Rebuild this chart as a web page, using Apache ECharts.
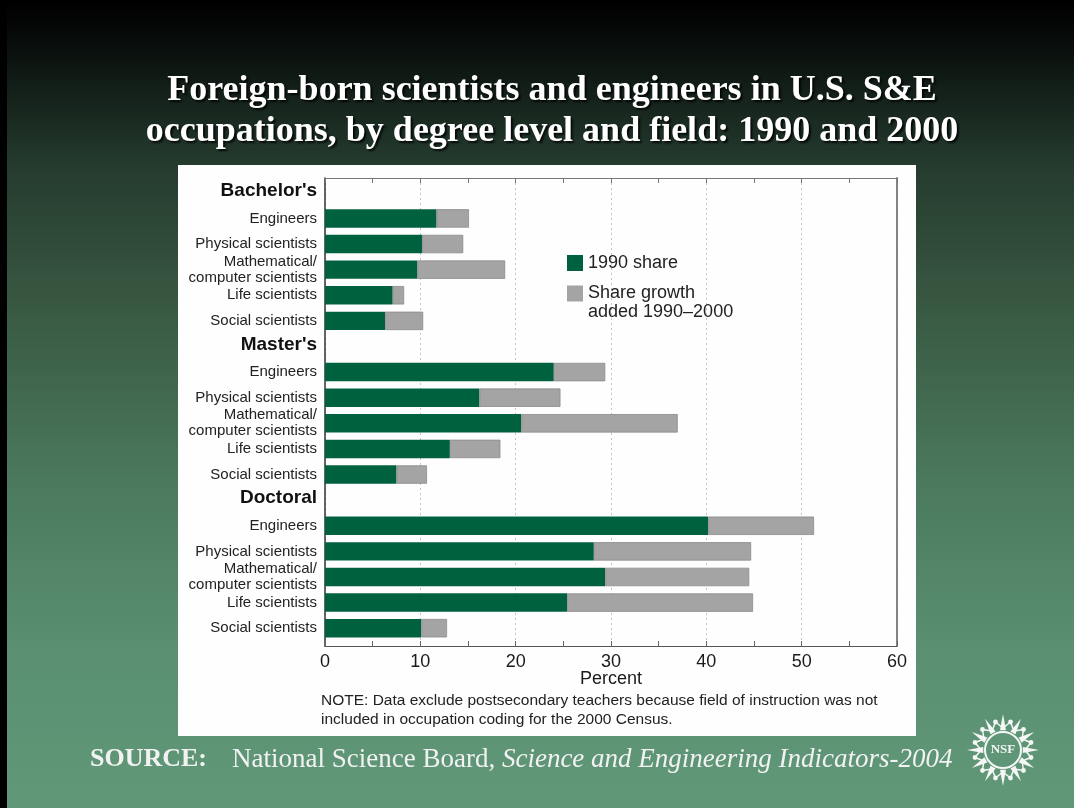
<!DOCTYPE html>
<html><head><meta charset="utf-8">
<script src="https://cdn.jsdelivr.net/npm/echarts@6/dist/echarts.min.js"></script>
<style>html,body{margin:0;padding:0;background:#000}#c{width:1074px;height:808px}</style>
</head><body><div id="c"></div>
<script>
// ---- data ----
const degreeLevels = ["Bachelor's", "Master's", "Doctoral"];
const fields = ["Engineers", "Physical scientists", "Mathematical/\ncomputer scientists", "Life scientists", "Social scientists"];
const share1990Bachelors = [11.7, 10.2, 9.7, 7.1, 6.3];
const growthBachelors    = [3.4, 4.3, 9.2, 1.2, 4.0];
const share1990Masters   = [24.0, 16.2, 20.6, 13.1, 7.5];
const growthMasters      = [5.4, 8.5, 16.4, 5.3, 3.2];
const share1990Doctoral  = [40.2, 28.2, 29.4, 25.4, 10.1];
const growthDoctoral     = [11.1, 16.5, 15.1, 19.5, 2.7];
const xTickLabels = [0, 10, 20, 30, 40, 50, 60];
const legendNames = ["1990 share", "Share growth\nadded 1990\u20132000"];

// ---- rows (header row per degree level, then fields) ----
const shares = [share1990Bachelors, share1990Masters, share1990Doctoral];
const growths = [growthBachelors, growthMasters, growthDoctoral];
const rowLabels = [], rowIsHeader = [], shareData = [], growthData = [];
degreeLevels.forEach((d, i) => {
  rowLabels.push(d); rowIsHeader.push(true); shareData.push('-'); growthData.push('-');
  fields.forEach((f, j) => {
    rowLabels.push(f); rowIsHeader.push(false);
    shareData.push(shares[i][j]); growthData.push(growths[i][j]);
  });
});
const rowKeys = rowLabels.map((l, i) => 'row' + i);

const SANS = "'Liberation Sans', Arial, Helvetica, sans-serif";
const SERIF = "'Liberation Serif', 'Times New Roman', serif";
const xMin = xTickLabels[0], xMax = xTickLabels[xTickLabels.length - 1];

// NSF emblem decoration
function nsfLogo(cx, cy) {
  const els = [];
  const n = 12;
  const c = '#f4f7f5';
  for (let k = 0; k < n; k++) {
    const a = k * 2 * Math.PI / n - Math.PI / 2;
    const a1 = a - 0.15, a2 = a + 0.15;
    const r0 = 20, r1 = 36;
    els.push({ type: 'polygon', shape: { points: [
      [cx + r0 * Math.cos(a1), cy + r0 * Math.sin(a1)],
      [cx + r1 * Math.cos(a), cy + r1 * Math.sin(a)],
      [cx + r0 * Math.cos(a2), cy + r0 * Math.sin(a2)]
    ] }, style: { fill: c } });
    const b = a + Math.PI / n;
    els.push({ type: 'circle', shape: { cx: cx + 29 * Math.cos(b), cy: cy + 29 * Math.sin(b), r: 2.4 }, style: { fill: c } });
    els.push({ type: 'line', shape: { x1: cx + 22 * Math.cos(a), y1: cy + 22 * Math.sin(a), x2: cx + 29 * Math.cos(b), y2: cy + 29 * Math.sin(b) }, style: { stroke: c, lineWidth: 1.5 } });
    els.push({ type: 'line', shape: { x1: cx + 22 * Math.cos(a + 2 * Math.PI / n), y1: cy + 22 * Math.sin(a + 2 * Math.PI / n), x2: cx + 29 * Math.cos(b), y2: cy + 29 * Math.sin(b) }, style: { stroke: c, lineWidth: 1.5 } });
  }
  els.push({ type: 'circle', shape: { cx, cy, r: 18 }, style: { fill: '#5f9677', stroke: c, lineWidth: 2 } });
  els.push({ type: 'text', style: { x: cx, y: cy, text: 'NSF', fill: c, font: "bold 13px " + SERIF, align: 'center', verticalAlign: 'middle' } });
  return els;
}

const chart = echarts.init(document.getElementById('c'));
chart.setOption({
  animation: false,
  backgroundColor: {
    type: 'linear', x: 0, y: 0, x2: 0, y2: 1,
    colorStops: [
      { offset: 0, color: '#000000' },
      { offset: 0.03, color: '#040605' },
      { offset: 0.1, color: '#111c16' },
      { offset: 0.2, color: '#243a2d' },
      { offset: 0.35, color: '#36543f' },
      { offset: 0.6, color: '#4b7a5e' },
      { offset: 0.8, color: '#5a8f71' },
      { offset: 1, color: '#609878' }
    ]
  },
  graphic: [
    { type: 'rect', z: 0, shape: { x: 0, y: 0, width: 7, height: 808 }, style: { fill: '#000' } },
    { type: 'rect', z: 0, shape: { x: 178, y: 165, width: 738, height: 571 }, style: { fill: '#fefefe' } },
    { type: 'group', z: 0, children: nsfLogo(1003, 750) }
  ],
  title: [
    {
      text: 'Foreign-born scientists and engineers in U.S. S&E\noccupations, by degree level and field: 1990 and 2000',
      left: 552, textAlign: 'center', top: 70, padding: 0,
      textStyle: { fontFamily: SERIF, fontWeight: 'bold', fontSize: 36, lineHeight: 41, color: '#ffffff',
        textShadowColor: 'rgba(0,0,0,0.8)', textShadowBlur: 2, textShadowOffsetX: 2, textShadowOffsetY: 2 }
    },
    {
      text: 'NOTE: Data exclude postsecondary teachers because field of instruction was not\nincluded in occupation coding for the 2000 Census.',
      left: 321, top: 691, padding: 0,
      textStyle: { fontFamily: SANS, fontWeight: 'normal', fontSize: 15.5, lineHeight: 19, color: '#222' }
    },
    {
      text: '{b|SOURCE:}{r|National Science Board, }{i|Science and Engineering Indicators-2004}',
      left: 90, top: 746, padding: 0,
      textStyle: {
        fontWeight: 'normal',
        rich: {
          b: { fontFamily: SERIF, fontWeight: 'bold', fontSize: 26, color: '#f2f2f2', padding: [0, 25, 0, 0] },
          r: { fontFamily: SERIF, fontWeight: 'normal', fontSize: 27, color: '#f2f2f2' },
          i: { fontFamily: SERIF, fontWeight: 'normal', fontStyle: 'italic', fontSize: 27, color: '#f2f2f2' }
        }
      }
    }
  ],
  legend: [
    {
      data: [{ name: legendNames[0] }], left: 567, top: 254, padding: 0,
      itemWidth: 16, itemHeight: 16, icon: 'rect', itemGap: 6, selectedMode: false,
      itemStyle: { borderWidth: 0 },
      textStyle: { fontFamily: SANS, fontSize: 18, color: '#222' }
    },
    {
      data: [{ name: legendNames[1] }], left: 567, top: 265, padding: 0,
      itemWidth: 16, itemHeight: 16, icon: 'rect', itemGap: 6, selectedMode: false,
      itemStyle: { borderWidth: 0 },
      formatter: name => '\n' + name,
      textStyle: { fontFamily: SANS, fontSize: 18, lineHeight: 19, color: '#222' }
    }
  ],
  grid: [
    { left: 325, top: 178, width: 572, height: 468 },
    { left: 325, top: 180, width: 572, height: 461 }
  ],
  xAxis: [
    {
      gridIndex: 0, type: 'value', position: 'bottom', min: xMin, max: xMax, interval: 10,
      axisLine: { show: true, onZero: false, lineStyle: { color: '#555', width: 1.2 } },
      axisTick: { show: true, inside: true, length: 5, lineStyle: { color: '#666' } },
      minorTick: { show: true, splitNumber: 2, length: 5, lineStyle: { color: '#666' } },
      axisLabel: { fontFamily: SANS, fontSize: 18, color: '#1a1a1a', margin: 7 },
      splitLine: { show: true, lineStyle: { type: [2, 3], color: '#c4c4c4', width: 1 } },
      name: 'Percent', nameLocation: 'middle', nameGap: 24, nameMoveOverlap: false,
      nameTextStyle: { fontFamily: SANS, fontSize: 18, color: '#1a1a1a' }
    },
    {
      gridIndex: 0, type: 'value', position: 'top', min: xMin, max: xMax, interval: 10,
      axisLine: { show: true, onZero: false, lineStyle: { color: '#777', width: 1.2 } },
      axisTick: { show: true, inside: true, length: 5, lineStyle: { color: '#777' } },
      minorTick: { show: true, splitNumber: 2, length: 5, lineStyle: { color: '#777' } },
      axisLabel: { show: false }, splitLine: { show: false }
    },
    { gridIndex: 1, type: 'value', min: xMin, max: xMax, show: false }
  ],
  yAxis: [
    {
      gridIndex: 0, type: 'value', min: 0, max: 1, position: 'left',
      axisLine: { show: true, onZero: false, lineStyle: { color: '#333', width: 1.5 } },
      axisTick: { show: false }, axisLabel: { show: false }, splitLine: { show: false }
    },
    {
      gridIndex: 0, type: 'value', min: 0, max: 1, position: 'right',
      axisLine: { show: true, onZero: false, lineStyle: { color: '#777', width: 1.8 } },
      axisTick: { show: false }, axisLabel: { show: false }, splitLine: { show: false }
    },
    {
      gridIndex: 1, type: 'category', inverse: true, data: rowKeys,
      axisLine: { show: false }, axisTick: { show: false }, splitLine: { show: false },
      axisLabel: {
        margin: 8, fontFamily: SANS, fontSize: 15, lineHeight: 16, color: '#222', interval: 0,
        formatter: (v, idx) => rowIsHeader[idx] ? '{h|' + rowLabels[idx] + '}' : rowLabels[idx],
        rich: { h: { fontFamily: SANS, fontWeight: 'bold', fontSize: 19, color: '#111', padding: [0, 0, 4, 0] } }
      }
    }
  ],
  series: [
    {
      type: 'bar', name: legendNames[0], stack: 'total', xAxisIndex: 2, yAxisIndex: 2,
      data: shareData, barCategoryGap: '28%',
      itemStyle: { color: '#00613f' }
    },
    {
      type: 'bar', name: legendNames[1], stack: 'total', xAxisIndex: 2, yAxisIndex: 2,
      data: growthData, barCategoryGap: '28%',
      itemStyle: { color: '#a4a4a4', borderColor: '#8c8c8c', borderWidth: 0.8 }
    }
  ]
});
</script>
</body></html>
